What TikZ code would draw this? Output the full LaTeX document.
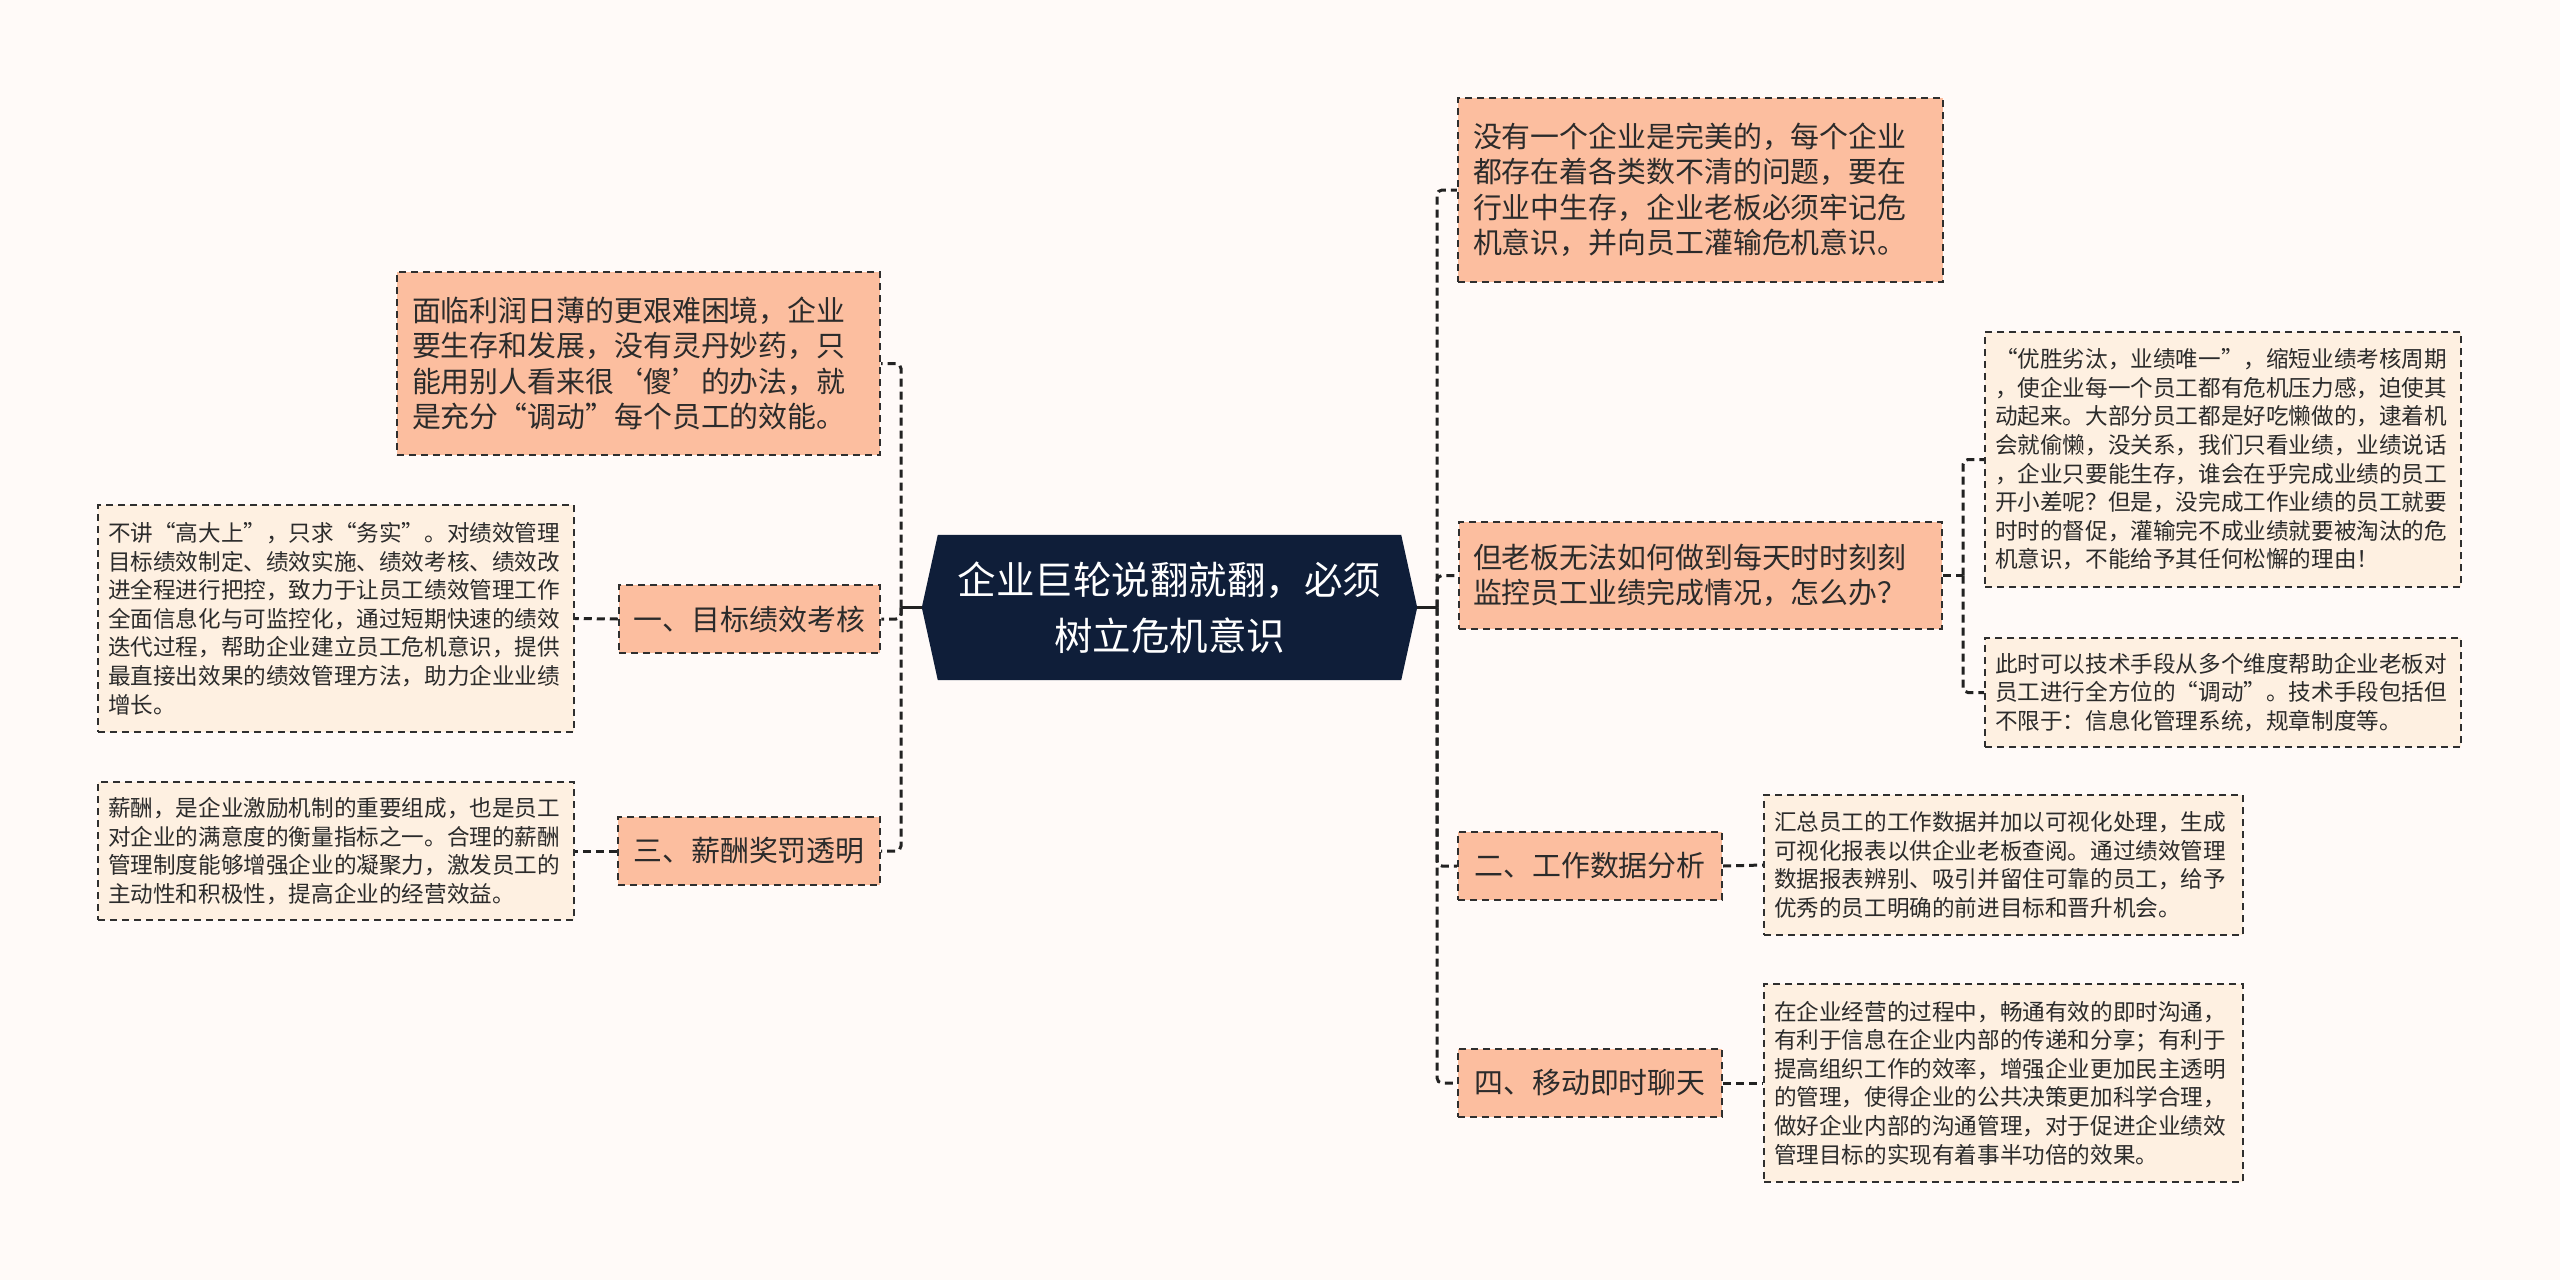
\documentclass[tikz,border=0pt]{standalone}
\usepackage{fontspec}
\setmainfont{Noto Sans CJK SC}
\definecolor{bgcol}{HTML}{FFFAF8}
\definecolor{lvfill}{HTML}{FCBE9F}
\definecolor{detfill}{HTML}{FEF0E1}
\definecolor{navy}{HTML}{0F1E39}
\definecolor{bordercol}{HTML}{2F2F2F}
\definecolor{txtcol}{HTML}{2B2B2B}
\definecolor{linecol}{HTML}{222222}
\pgfdeclarelayer{background}
\pgfsetlayers{background,main}
\tikzset{
  lvone/.style={draw=bordercol, line width=2.3pt, dash pattern=on 7pt off 5pt, fill=lvfill, text=txtcol,
    inner xsep=15pt, inner ysep=0pt, font=\fontsize{28.9}{35.5}\selectfont, align=left},
  lvtag/.style={lvone, align=center, minimum height=68pt},
  detail/.style={draw=bordercol, line width=2pt, dash pattern=on 7pt off 5pt, fill=detfill, text=txtcol,
    inner xsep=10pt, inner ysep=0pt, font=\fontsize{22.6}{28.6}\selectfont, align=left},
  conn/.style={draw=linecol, line width=3pt, dash pattern=on 8pt off 5pt, rounded corners=5pt},
  solidconn/.style={draw=linecol, line width=3pt},
  hub/.style={minimum width=495pt, minimum height=145pt, inner sep=0pt, text=white, align=center,
    font=\fontsize{38.5}{56}\selectfont},
}
\begin{document}
\begin{tikzpicture}[x=1pt,y=-1pt]
\begin{pgfonlayer}{background}
\fill[bgcol] (0,0) rectangle (2560,1280);
\end{pgfonlayer}
\useasboundingbox (0,0) rectangle (2560,1280);

% central node
\node[hub] (c) at (1169.5,607.5) {企业巨轮说翻就翻，必须\\树立危机意识};
\begin{pgfonlayer}{background}
\fill[navy] ([xshift=16pt]c.north west) -- ([xshift=-16pt]c.north east) -- (c.east)
  -- ([xshift=-16pt]c.south east) -- ([xshift=16pt]c.south west) -- (c.west) -- cycle;
\end{pgfonlayer}

% spine coordinates
\coordinate (ls) at (901,607.5);
\coordinate (rs) at (1437,607.5);

% left side
\node[lvone, text width=453pt, minimum height=183pt] (A) at (638.5,363.5)
  {面临利润日薄的更艰难困境，企业\\要生存和发展，没有灵丹妙药，只\\能用别人看来很‘傻’的办法，就\\是充分“调动”每个员工的效能。};
\node[lvtag, minimum width=261pt] (B) at (749.5,619) {一、目标绩效考核};
\node[lvtag, minimum width=262pt] (C) at (749,851) {三、薪酬奖罚透明};
\node[detail, text width=456pt, minimum height=227pt] (D1) at (336,618.5)
  {不讲“高大上”，只求“务实”。对绩效管理\\目标绩效制定、绩效实施、绩效考核、绩效改\\进全程进行把控，致力于让员工绩效管理工作\\全面信息化与可监控化，通过短期快速的绩效\\迭代过程，帮助企业建立员工危机意识，提供\\最直接出效果的绩效管理方法，助力企业业绩\\增长。};
\node[detail, text width=456pt, minimum height=138pt] (D2) at (336,851)
  {薪酬，是企业激励机制的重要组成，也是员工\\对企业的满意度的衡量指标之一。合理的薪酬\\管理制度能够增强企业的凝聚力，激发员工的\\主动性和积极性，提高企业的经营效益。};

% right side
\node[lvone, text width=455pt, minimum height=184pt] (E) at (1700.5,190)
  {没有一个企业是完美的，每个企业\\都存在着各类数不清的问题，要在\\行业中生存，企业老板必须牢记危\\机意识，并向员工灌输危机意识。};
\node[lvone, text width=455pt, inner xsep=14pt, minimum height=107pt] (F) at (1700.5,575.5)
  {但老板无法如何做到每天时时刻刻\\监控员工业绩完成情况，怎么办？};
\node[detail, text width=456pt, minimum height=255pt] (G) at (2223,459.5)
  {“优胜劣汰，业绩唯一”，缩短业绩考核周期\\，使企业每一个员工都有危机压力感，迫使其\\动起来。大部分员工都是好吃懒做的，逮着机\\会就偷懒，没关系，我们只看业绩，业绩说话\\，企业只要能生存，谁会在乎完成业绩的员工\\开小差呢？但是，没完成工作业绩的员工就要\\时时的督促，灌输完不成业绩就要被淘汰的危\\机意识，不能给予其任何松懈的理由！};
\node[detail, text width=456pt, minimum height=109pt] (H) at (2223,692.5)
  {此时可以技术手段从多个维度帮助企业老板对\\员工进行全方位的“调动”。技术手段包括但\\不限于：信息化管理系统，规章制度等。};
\node[lvtag, minimum width=264pt] (I) at (1590,866) {二、工作数据分析};
\node[detail, text width=459pt, minimum height=140pt] (J) at (2003.5,865)
  {汇总员工的工作数据并加以可视化处理，生成\\可视化报表以供企业老板查阅。通过绩效管理\\数据报表辨别、吸引并留住可靠的员工，给予\\优秀的员工明确的前进目标和晋升机会。};
\node[lvtag, minimum width=264pt] (K) at (1590,1083) {四、移动即时聊天};
\node[detail, text width=459pt, minimum height=198pt] (L) at (2003.5,1083)
  {在企业经营的过程中，畅通有效的即时沟通，\\有利于信息在企业内部的传递和分享；有利于\\提高组织工作的效率，增强企业更加民主透明\\的管理，使得企业的公共决策更加科学合理，\\做好企业内部的沟通管理，对于促进企业绩效\\管理目标的实现有着事半功倍的效果。};

\coordinate (ss) at (1963,575.5);

% connectors
\draw[solidconn] (c.west) -- (ls);
\draw[solidconn] (c.east) -- (rs);
\draw[conn] (ls) |- (A.east);
\draw[conn] (ls) |- (B.east);
\draw[conn] (ls) |- (C.east);
\draw[conn] (rs) |- (E.west);
\draw[conn] (rs) |- (F.west);
\draw[conn] (rs) |- (I.west);
\draw[conn] (rs) |- (K.west);
\draw[conn] (B.west) -- (D1.east);
\draw[conn] (C.west) -- (D2.east);
\draw[conn] (I.east) -- (J.west);
\draw[conn] (K.east) -- (L.west);
\draw[conn] (F.east) -- (ss);
\draw[conn] (ss) |- (G.west);
\draw[conn] (ss) |- (H.west);
\end{tikzpicture}
\end{document}
